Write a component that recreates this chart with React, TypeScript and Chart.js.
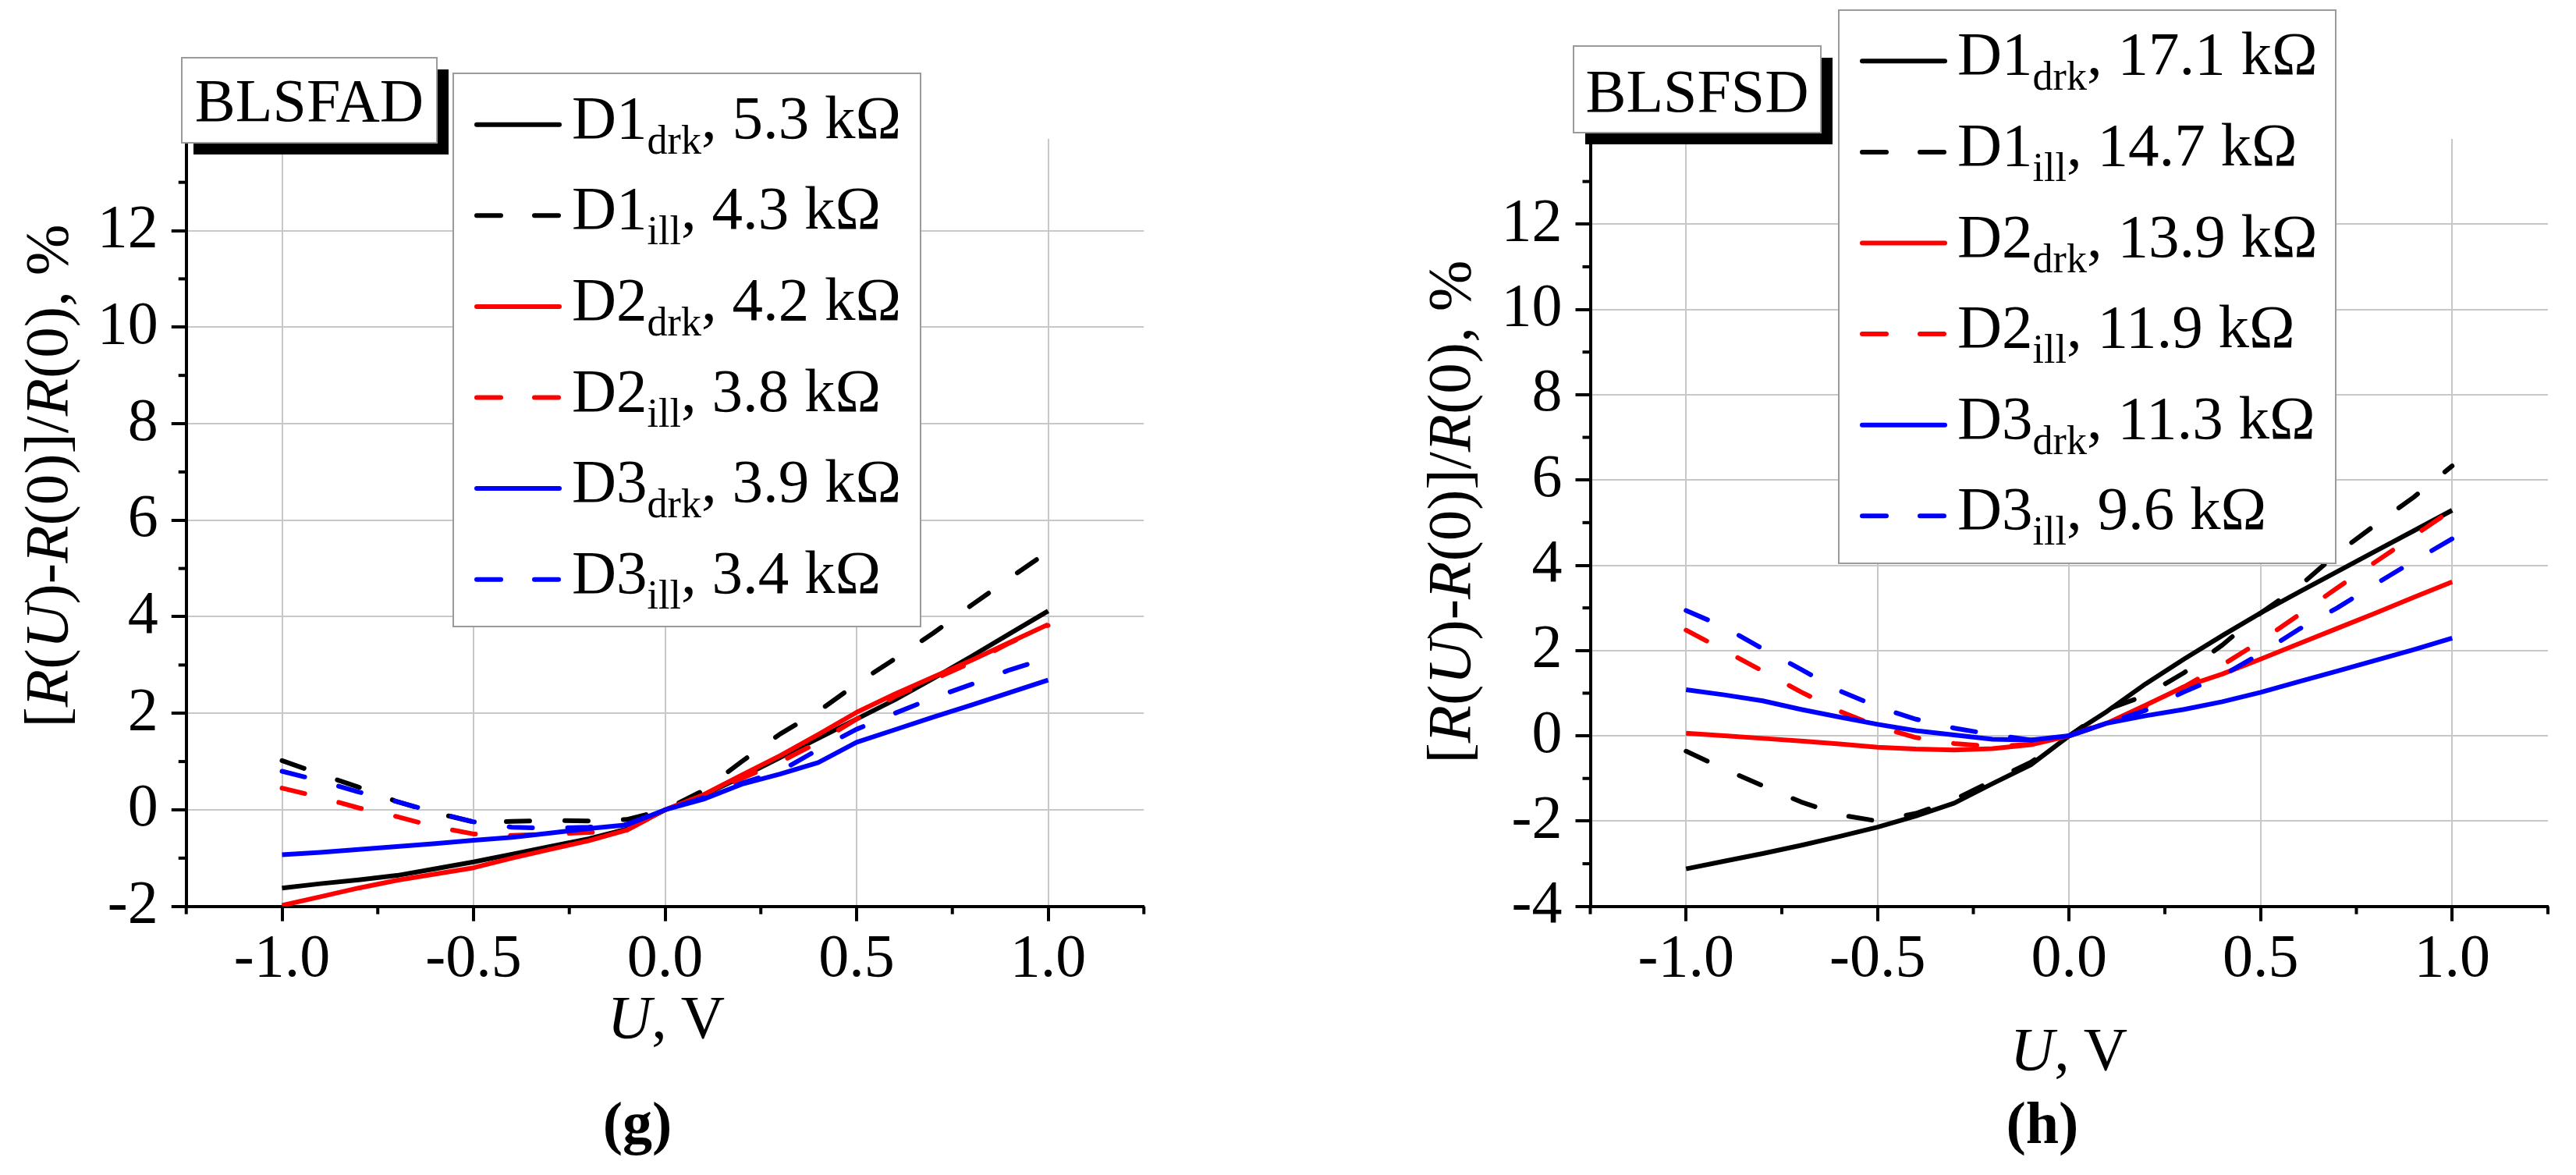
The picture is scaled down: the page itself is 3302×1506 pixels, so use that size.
import React, { useEffect, useRef } from 'react';
import { Chart, registerables } from 'chart.js';

Chart.register(...registerables);

// ---------- data ----------
const U = [-1.0, -0.9, -0.8, -0.7, -0.6, -0.5, -0.4, -0.3, -0.2, -0.1, 0.0, 0.1, 0.2, 0.3, 0.4, 0.5, 0.6, 0.7, 0.8, 0.9, 1.0];

// panel (g) BLSFAD
const gD1drk = [-1.62, -1.53, -1.45, -1.36, -1.22, -1.08, -0.92, -0.76, -0.6, -0.4, 0, 0.3, 0.68, 1.08, 1.48, 1.88, 2.28, 2.72, 3.18, 3.65, 4.12];
const gD1ill = [1.02, 0.74, 0.47, 0.17, -0.06, -0.25, -0.24, -0.22, -0.23, -0.2, 0, 0.4, 1.0, 1.57, 2.04, 2.61, 3.13, 3.66, 4.24, 4.8, 5.35];
const gD2drk = [-1.98, -1.8, -1.62, -1.46, -1.33, -1.2, -1.0, -0.82, -0.64, -0.42, 0, 0.31, 0.72, 1.12, 1.56, 2.02, 2.4, 2.75, 3.1, 3.47, 3.84];
const gD2ill = [0.45, 0.26, 0.04, -0.14, -0.35, -0.5, -0.53, -0.5, -0.47, -0.42, 0, 0.3, 0.65, 0.99, 1.4, 1.88, 2.35, 2.7, 3.05, 3.46, 3.82];
const gD3drk = [-0.93, -0.88, -0.82, -0.76, -0.7, -0.63, -0.57, -0.48, -0.39, -0.31, 0, 0.22, 0.53, 0.74, 0.98, 1.4, 1.66, 1.92, 2.17, 2.43, 2.69];
const gD3ill = [0.8, 0.6, 0.37, 0.17, -0.05, -0.25, -0.36, -0.38, -0.36, -0.3, 0, 0.25, 0.55, 0.8, 1.25, 1.67, 2.0, 2.32, 2.6, 2.9, 3.15];

// panel (h) BLSFSD
const hD1drk = [-3.12, -2.94, -2.76, -2.57, -2.36, -2.14, -1.88, -1.58, -1.12, -0.68, 0, 0.58, 1.22, 1.8, 2.35, 2.88, 3.37, 3.85, 4.33, 4.81, 5.29];
const hD1ill = [-0.36, -0.78, -1.17, -1.55, -1.85, -2.0, -1.82, -1.5, -1.05, -0.62, 0, 0.62, 0.95, 1.48, 2.13, 2.88, 3.5, 4.28, 4.95, 5.6, 6.33];
const hD2drk = [0.06, 0.0, -0.06, -0.12, -0.19, -0.27, -0.31, -0.33, -0.3, -0.21, 0, 0.3, 0.72, 1.15, 1.45, 1.8, 2.16, 2.52, 2.88, 3.25, 3.61];
const hD2ill = [2.48, 2.0, 1.52, 1.03, 0.58, 0.22, -0.04, -0.18, -0.25, -0.2, 0, 0.32, 0.68, 1.15, 1.66, 2.22, 2.84, 3.47, 4.08, 4.69, 5.3];
const hD3drk = [1.08, 0.96, 0.82, 0.62, 0.44, 0.27, 0.12, 0.02, -0.08, -0.1, 0, 0.3, 0.47, 0.62, 0.8, 1.02, 1.27, 1.52, 1.77, 2.02, 2.29];
const hD3ill = [2.94, 2.55, 2.04, 1.56, 1.06, 0.68, 0.39, 0.18, 0.03, -0.1, 0, 0.3, 0.6, 1.03, 1.41, 1.93, 2.5, 3.0, 3.56, 4.1, 4.62];

const seriesNames = ['D1', 'D1', 'D2', 'D2', 'D3', 'D3'];
const seriesSubs = ['drk', 'ill', 'drk', 'ill', 'drk', 'ill'];
const gResist = ['5.3 kΩ', '4.3 kΩ', '4.2 kΩ', '3.8 kΩ', '3.9 kΩ', '3.4 kΩ'];
const hResist = ['17.1 kΩ', '14.7 kΩ', '13.9 kΩ', '11.9 kΩ', '11.3 kΩ', '9.6 kΩ'];
const seriesColors = ['#000000', '#000000', '#ff0000', '#ff0000', '#0000ff', '#0000ff'];
const seriesDashed = [false, true, false, true, false, true];

const xTicks = [-1.0, -0.5, 0.0, 0.5, 1.0];
const xMinorTicks = [-1.25, -0.75, -0.25, 0.25, 0.75, 1.25];
const gYTicks = [-2, 0, 2, 4, 6, 8, 10, 12];
const gYMinor = [-1, 1, 3, 5, 7, 9, 11, 13];
const hYTicks = [-4, -2, 0, 2, 4, 6, 8, 10, 12];
const hYMinor = [-3, -1, 1, 3, 5, 7, 9, 11, 13];

const gTag = 'BLSFAD';
const hTag = 'BLSFSD';

// ---------- styling ----------
const FONT = "'Liberation Serif', 'Times New Roman', Times, serif";
const PAGE_W = 3302;
const PAGE_H = 1506;
const PLOT_TOP = 178;
const PLOT_BOTTOM = 1161.7;
const X_AXIS_H = 100;

const minorTicksPlugin = {
  id: 'minorTicks',
  afterDraw(chart: any, _args: any, opts: any) {
    const { ctx, chartArea, scales } = chart;
    ctx.save();
    ctx.strokeStyle = '#000';
    ctx.lineWidth = 4;
    ctx.lineCap = 'butt';
    (opts.x || []).forEach((v: number) => {
      const px = scales.x.getPixelForValue(v);
      ctx.beginPath();
      ctx.moveTo(px, chartArea.bottom);
      ctx.lineTo(px, chartArea.bottom + 10);
      ctx.stroke();
    });
    (opts.y || []).forEach((v: number) => {
      const py = scales.y.getPixelForValue(v);
      ctx.beginPath();
      ctx.moveTo(chartArea.left - 10, py);
      ctx.lineTo(chartArea.left, py);
      ctx.stroke();
    });
    ctx.restore();
  },
};

function buildConfig(series: number[][], yMin: number, yMax: number, yTicks: number[], yMinor: number[], canvasW: number, plotLeft: number, plotRight: number) {
  const datasets = series.map((vals, i) => ({
    label: seriesNames[i] + seriesSubs[i],
    data: U.map((u, k) => ({ x: u, y: vals[k] })),
    borderColor: seriesColors[i],
    backgroundColor: seriesColors[i],
    borderWidth: 6,
    borderDash: seriesDashed[i] ? [30, 45] : [],
    borderCapStyle: seriesDashed[i] ? 'round' : 'butt',
    borderJoinStyle: 'round',
    pointRadius: 0,
    pointHoverRadius: 0,
    tension: 0,
    fill: false,
    order: 5 - i,
  }));
  const tickFont = { family: FONT, size: 78 };
  return {
    type: 'line',
    data: { datasets },
    options: {
      animation: false,
      responsive: false,
      devicePixelRatio: 1,
      events: [],
      layout: {
        autoPadding: false,
        padding: { left: 0, top: PLOT_TOP, right: canvasW - plotRight, bottom: PAGE_H - PLOT_BOTTOM - X_AXIS_H },
      },
      plugins: {
        legend: { display: false },
        title: { display: false },
        tooltip: { enabled: false },
        minorTicks: { x: xMinorTicks, y: yMinor },
      },
      scales: {
        x: {
          type: 'linear',
          min: -1.25,
          max: 1.25,
          afterFit: (s: any) => { s.height = X_AXIS_H; },
          afterBuildTicks: (s: any) => { s.ticks = xTicks.map((v) => ({ value: v })); },
          grid: { color: '#c8c8c8', lineWidth: 2, drawTicks: true, tickLength: 19, tickColor: '#000', tickWidth: 4 },
          border: { display: true, color: '#000', width: 4 },
          ticks: { font: tickFont, color: '#000', padding: 3, maxRotation: 0, autoSkip: false, callback: (v: any) => Number(v).toFixed(1) },
        },
        y: {
          type: 'linear',
          min: yMin,
          max: yMax,
          afterFit: (s: any) => { s.width = plotLeft; },
          afterBuildTicks: (s: any) => { s.ticks = yTicks.map((v) => ({ value: v })); },
          grid: { color: '#c8c8c8', lineWidth: 2, drawTicks: true, tickLength: 19, tickColor: '#000', tickWidth: 4 },
          border: { display: true, color: '#000', width: 4 },
          ticks: { font: tickFont, color: '#000', padding: 17, autoSkip: false, callback: (v: any) => String(v) },
        },
      },
    },
    plugins: [minorTicksPlugin],
  };
}

function ChartCanvas({ left, width, makeConfig }: { left: number; width: number; makeConfig: () => any }) {
  const ref = useRef<HTMLCanvasElement | null>(null);
  useEffect(() => {
    const chart = new Chart(ref.current as HTMLCanvasElement, makeConfig());
    return () => chart.destroy();
  }, []);
  return (
    <canvas
      ref={ref}
      width={width}
      height={PAGE_H}
      style={{ position: 'absolute', left, top: 0, width, height: PAGE_H }}
    />
  );
}

function Legend({ x, y, w, h, baseline0, resist }: { x: number; y: number; w: number; h: number; baseline0: number; resist: string[] }) {
  const step = 116.6;
  return (
    <g>
      <rect x={x} y={y} width={w} height={h} fill="#ffffff" stroke="#9a9a9a" strokeWidth={2} />
      {seriesNames.map((name, i) => {
        const base = baseline0 + i * step;
        return (
          <g key={i}>
            <line
              x1={x + 30}
              x2={x + 136}
              y1={base - 17}
              y2={base - 17}
              stroke={seriesColors[i]}
              strokeWidth={6}
              strokeLinecap="round"
              strokeDasharray={seriesDashed[i] ? '31 43' : undefined}
            />
            <text x={x + 152} y={base} fontFamily={FONT} fontSize={79} fill="#000">
              {name}
              <tspan fontSize={52} dy={20}>{seriesSubs[i]}</tspan>
              <tspan dy={-20}>{', ' + resist[i]}</tspan>
            </text>
          </g>
        );
      })}
    </g>
  );
}

function TagBox({ x, y, w, h, text, baseline }: { x: number; y: number; w: number; h: number; text: string; baseline: number }) {
  return (
    <g>
      <rect x={x + 15} y={y + 15} width={w} height={h} fill="#000" />
      <rect x={x} y={y} width={w} height={h} fill="#fff" stroke="#9a9a9a" strokeWidth={2} />
      <text x={x + w / 2} y={baseline} textAnchor="middle" fontFamily={FONT} fontSize={78} fill="#000">{text}</text>
    </g>
  );
}

function YTitle({ x, y }: { x: number; y: number }) {
  return (
    <text transform={`translate(${x} ${y}) rotate(-90)`} textAnchor="middle" fontFamily={FONT} fontSize={79} fill="#000">
      [<tspan fontStyle="italic">R</tspan>(<tspan fontStyle="italic">U</tspan>)-<tspan fontStyle="italic">R</tspan>(0)]/<tspan fontStyle="italic">R</tspan>(0), %
    </text>
  );
}

function XTitle({ x, y }: { x: number; y: number }) {
  return (
    <text x={x} y={y} textAnchor="middle" fontFamily={FONT} fontSize={78} fill="#000">
      <tspan fontStyle="italic">U</tspan>, V
    </text>
  );
}

export default function App() {
  const gSeries = [gD1drk, gD1ill, gD2drk, gD2ill, gD3drk, gD3ill];
  const hSeries = [hD1drk, hD1ill, hD2drk, hD2ill, hD3drk, hD3ill];
  return (
    <div style={{ position: 'fixed', left: 0, top: 0, width: PAGE_W, height: PAGE_H, background: '#ffffff', overflow: 'hidden' }}>
      <ChartCanvas left={0} width={1650} makeConfig={() => buildConfig(gSeries, -2, 13.9, gYTicks, gYMinor, 1650, 238.75, 1466.25)} />
      <ChartCanvas left={1650} width={1652} makeConfig={() => buildConfig(hSeries, -4, 14, hYTicks, hYMinor, 1652, 388.5, 1616)} />
      <svg width={PAGE_W} height={PAGE_H} style={{ position: 'absolute', left: 0, top: 0 }}>
        {/* panel g */}
        <TagBox x={233} y={74} w={327} h={109} text={gTag} baseline={155} />
        <Legend x={581} y={94} w={599} h={709} baseline0={176.7} resist={gResist} />
        <YTitle x={86} y={610} />
        <XTitle x={854} y={1330} />
        <text x={817} y={1465} textAnchor="middle" fontFamily={FONT} fontSize={76} fontWeight="bold" fill="#000">(g)</text>
        {/* panel h */}
        <TagBox x={2017} y={59} w={317} h={111} text={hTag} baseline={143} />
        <Legend x={2357} y={13} w={637} h={709} baseline0={95.3} resist={hResist} />
        <YTitle x={1884} y={656} />
        <XTitle x={2652} y={1371} />
        <text x={2618} y={1465} textAnchor="middle" fontFamily={FONT} fontSize={76} fontWeight="bold" fill="#000">(h)</text>
      </svg>
    </div>
  );
}
